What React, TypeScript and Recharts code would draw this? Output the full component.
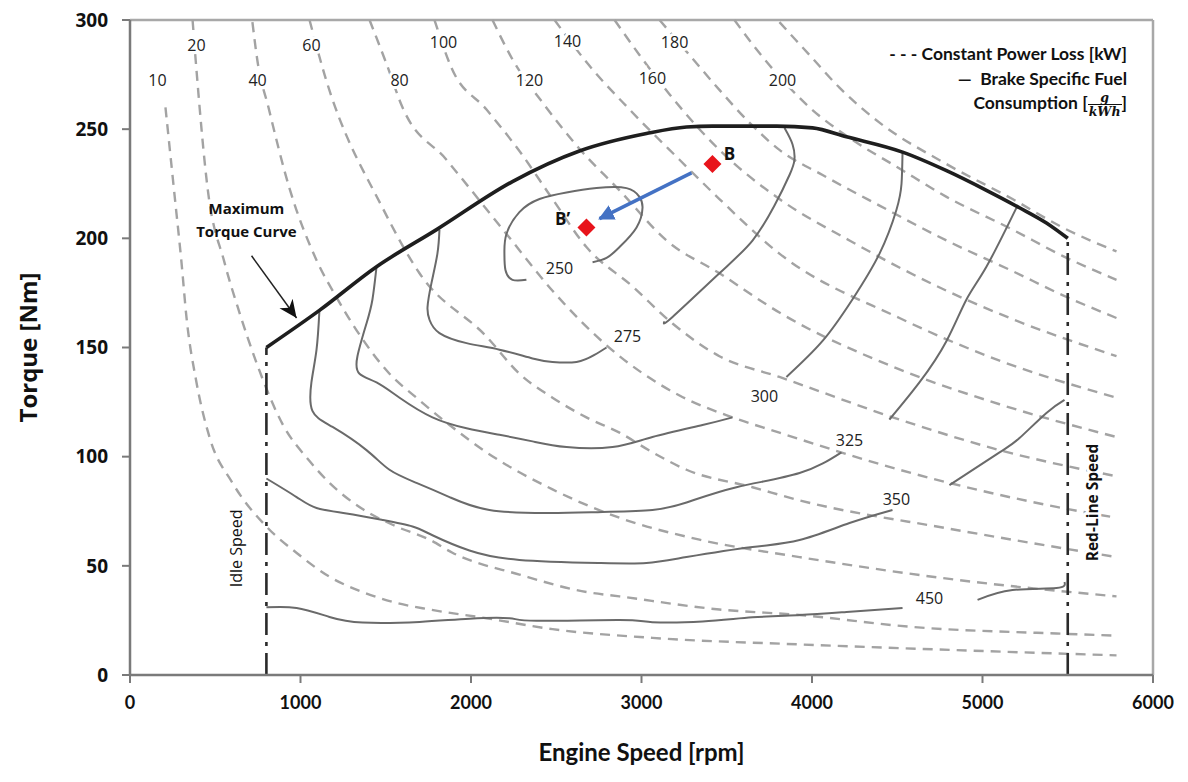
import { ComposedChart, Line, Scatter, XAxis, YAxis, ReferenceLine, ReferenceDot } from "recharts"

type Pair = [number, number]

const speedTicks = [0, 1000, 2000, 3000, 4000, 5000, 6000]
const torqueTicks = [0, 50, 100, 150, 200, 250, 300]

// full load curve and speed limits (rpm, Nm)
const maxTorque: Pair[] = [
  [800, 150], [1111, 167], [1446, 187], [1798, 204], [2243, 226], [2636, 240], [3029, 248],
  [3264, 251], [3416, 251.4], [3792, 251.4], [4003, 250.6], [4202, 246.5], [4531, 239.5],
  [4789, 231], [5023, 222], [5217, 214], [5375, 207], [5500, 200],
]
const idleSpeed: Pair[] = [[800, 0], [800, 150]]
const redLineSpeed: Pair[] = [[5500, 0], [5500, 200]]

// constant power loss curves [kW]
const loss10: Pair[] = [
  [208, 260], [261, 220], [302, 189], [331, 164], [390, 134], [466, 109], [601, 88], [800, 68],
  [976, 56], [1170, 45], [1364, 38], [1563, 33], [1757, 30], [2091, 26], [2478, 21], [3064, 17],
  [3927, 14], [4806, 11.5], [5786, 9],
]
const loss20: Pair[] = [
  [367, 300], [390, 277], [455, 223], [554, 189], [642, 166], [742, 143], [894, 115], [1053, 98],
  [1170, 88], [1364, 76], [1563, 68], [1757, 62], [1891, 56], [2284, 46], [2677, 38], [2871, 36],
  [3457, 30], [3927, 27.5], [4589, 22], [5434, 19], [5786, 18],
]
const loss40: Pair[] = [
  [718, 299], [748, 281], [812, 260], [935, 223], [1094, 190], [1211, 173], [1328, 158],
  [1522, 138], [1680, 127], [1874, 114.5], [2091, 102], [2478, 85], [2871, 72], [3340, 62],
  [3927, 54], [4806, 44], [5786, 36],
]
const loss60: Pair[] = [
  [1053, 300], [1141, 275], [1481, 214], [1698, 184], [2091, 155], [2284, 138], [2478, 127],
  [2677, 118], [2871, 111], [3064, 102], [3264, 94], [3651, 86], [3927, 80], [4806, 67], [5786, 54],
]
const loss80: Pair[] = [
  [1405, 300], [1504, 280], [1598, 260], [1856, 236], [2208, 202], [2478, 176], [2795, 151],
  [3223, 128], [3534, 118], [3809, 111], [4513, 94], [5434, 77], [5786, 72],
]
const loss100: Pair[] = [
  [1786, 300], [1886, 278], [2091, 259], [2284, 240], [2478, 218], [2677, 196], [2947, 178],
  [3182, 161], [3457, 146], [3809, 136.5], [4513, 117], [5100, 103], [5786, 91],
]
const loss120: Pair[] = [
  [2126, 300], [2243, 282], [2431, 261], [2636, 241], [2871, 222], [3147, 199], [3457, 184],
  [3809, 166], [4513, 140], [5100, 124], [5786, 109],
]
const loss140: Pair[] = [
  [2490, 300], [2695, 279], [2930, 259], [3223, 236], [3457, 218], [3809, 193], [4513, 163.5],
  [5100, 144], [5786, 127],
]
const loss160: Pair[] = [
  [2842, 300], [2988, 284], [3164, 266], [3457, 240.5], [3809, 218], [4220, 199], [4789, 176],
  [5176, 163], [5786, 146],
]
const loss180: Pair[] = [
  [3106, 300], [3281, 284], [3457, 268], [3633, 253], [3809, 240.5], [4062, 229], [4396, 215],
  [4789, 199], [5176, 185], [5469, 174], [5786, 163.5],
]
const loss200: Pair[] = [
  [3545, 300], [3680, 286], [3827, 272.5], [3985, 260], [4220, 246], [4513, 232], [4789, 219],
  [5176, 204], [5469, 192], [5786, 181],
]
const loss220: Pair[] = [
  [3809, 299], [3985, 284], [4161, 269], [4396, 253], [4789, 234], [5176, 218], [5469, 205], [5786, 194],
]
const lossCurves = [loss10, loss20, loss40, loss60, loss80, loss100, loss120, loss140, loss160, loss180, loss200, loss220]

const lossLabels: [string, number, number][] = [
  ["10", 161, 272.5], ["20", 390, 288.5], ["40", 748, 272.5], ["60", 1064, 288.5],
  ["80", 1581, 272.5], ["100", 1839, 290], ["120", 2343, 272.5], ["140", 2566, 290.4],
  ["160", 3064, 273.4], ["180", 3194, 290], ["200", 3827, 272.5],
]

// brake specific fuel consumption contours [g/kWh]
const bsfc250: Pair[] = [
  [2325, 181], [2243, 181], [2202, 185.5], [2196, 193], [2208, 202], [2284, 212], [2402, 218],
  [2560, 221], [2736, 223], [2912, 223], [2988, 219], [3006, 214], [2971, 205], [2871, 196],
  [2795, 191], [2713, 189],
]
const bsfc275a: Pair[] = [
  [1815, 204], [1803, 193], [1768, 179.5], [1745, 168.5], [1757, 162.6], [1815, 156.6],
  [1974, 152], [2167, 149], [2361, 145], [2478, 143.4], [2619, 143.4], [2724, 146.6], [2795, 150],
]
const bsfc275b: Pair[] = [
  [3135, 162], [3182, 164], [3457, 184], [3651, 199], [3780, 215], [3868, 229], [3897, 236],
  [3886, 243], [3839, 250.5],
]
const bsfc300a: Pair[] = [
  [1446, 187], [1422, 172], [1387, 161], [1334, 146], [1346, 138], [1446, 134], [1581, 127],
  [1774, 118], [1974, 113], [2167, 110], [2361, 107], [2560, 104.4], [2830, 104.4], [3064, 109],
  [3358, 114.5], [3534, 118],
]
const bsfc300b: Pair[] = [
  [3850, 136.5], [4062, 153], [4237, 172], [4396, 193], [4495, 213], [4525, 225], [4531, 239.5],
]
const bsfc325a: Pair[] = [
  [1111, 167], [1094, 149], [1064, 134], [1070, 121], [1188, 113.6], [1387, 103], [1522, 94],
  [1680, 88], [1874, 81.5], [2108, 75.6], [2460, 74.2], [2771, 74.7], [3064, 75.6], [3264, 79],
  [3557, 86], [3927, 92.5], [4173, 102],
]
const bsfc325b: Pair[] = [[4454, 117], [4630, 134], [4789, 153], [4906, 172], [5023, 187], [5199, 214]]
const bsfc350a: Pair[] = [
  [800, 90], [977, 81.5], [1094, 76.5], [1270, 74], [1481, 71], [1657, 68], [1774, 64], [1991, 57],
  [2284, 52.7], [2754, 51.3], [3029, 51.3], [3264, 54], [3651, 58.6], [3927, 61.8], [4220, 69.6],
  [4472, 75.6],
]
const bsfc350b: Pair[] = [[4806, 87], [5100, 102], [5217, 108.5], [5375, 120], [5481, 126]]
const bsfc450a: Pair[] = [
  [800, 31], [977, 30.7], [1170, 26.6], [1364, 24], [1698, 24.3], [1991, 25.8], [2226, 26],
  [2384, 24.8], [2871, 25.2], [3064, 24.2], [3358, 24.5], [3651, 26.4], [3927, 27.5], [4202, 28.9],
  [4531, 30.7],
]
const bsfc450b: Pair[] = [[4971, 34.4], [5176, 38.9], [5434, 39.8], [5481, 42.6]]
const bsfcCurves = [bsfc250, bsfc275a, bsfc275b, bsfc300a, bsfc300b, bsfc325a, bsfc325b, bsfc350a, bsfc350b, bsfc450a, bsfc450b]

const bsfcLabels: [string, number, number][] = [
  ["250", 2519, 186.4], ["275", 2918, 155.3], ["300", 3721, 127.8],
  ["325", 4220, 107.6], ["350", 4495, 80.6], ["450", 4689, 35.3],
]

// operating points B -> B'
const operatingPoints: Pair[] = [[3416, 234], [2677, 205]]
const pointLabels: [string, number, number][] = [["B", 3516, 239], ["B\u2019", 2537, 209.3]]
const shiftArrow: Pair[] = [[3293, 230], [2754, 209]]
const torqueArrow: Pair[] = [[713, 192], [977, 163.5]]

const toXY = (s: Pair[]) => s.map(([x, y]) => ({ x, y }))

const labelFont = "'Open Sans', sans-serif"

function textShape(label: string, attrs: Record<string, any>, rotate = 0) {
  return (p: any) => (
    <text
      x={p.cx}
      y={p.cy}
      textAnchor="middle"
      dominantBaseline="central"
      stroke="#fff"
      strokeWidth={6}
      paintOrder="stroke"
      transform={rotate ? `rotate(${rotate}, ${p.cx}, ${p.cy})` : undefined}
      {...attrs}
    >
      {label}
    </text>
  )
}

const Diamond = (p: any) => (
  <polygon
    points={`${p.cx},${p.cy - 9} ${p.cx + 9},${p.cy} ${p.cx},${p.cy + 9} ${p.cx - 9},${p.cy}`}
    fill="#e8141b"
  />
)

const MaxTorqueText = (p: any) => (
  <text x={p.cx} y={p.cy} textAnchor="middle" fontFamily={labelFont} fontWeight={700} fontSize={15} fill="#111">
    <tspan x={p.cx} dy={-5}>Maximum</tspan>
    <tspan x={p.cx} dy={23}>Torque Curve</tspan>
  </text>
)

export default function App() {
  return (
    <div style={{ position: "absolute", left: 0, top: 0, width: 1188, height: 782, background: "#fff" }}>
      <svg width={0} height={0} style={{ position: "absolute" }}>
        <defs>
          <marker id="arrowBlue" viewBox="0 0 10 10" refX="9" refY="5" markerWidth="4.5" markerHeight="4.5" orient="auto">
            <path d="M0,0 L10,5 L0,10 z" fill="#4472c4" />
          </marker>
          <marker id="arrowBlack" viewBox="0 0 10 10" refX="10" refY="5" markerWidth="12" markerHeight="12" orient="auto">
            <path d="M0,0.5 L10,5 L0,9.5 L3,5 z" fill="#111" />
          </marker>
        </defs>
      </svg>
      <ComposedChart width={1188} height={782} margin={{ top: 20, right: 35, bottom: 0, left: 0 }}>
        <XAxis
          type="number"
          dataKey="x"
          domain={[0, 6000]}
          ticks={speedTicks}
          interval={0}
          height={107}
          tickSize={8}
          tickMargin={13}
          axisLine={{ stroke: "#7a7a7a", strokeWidth: 2.5 }}
          tickLine={{ stroke: "#7a7a7a", strokeWidth: 2 }}
          tick={{ fill: "#111", fontSize: 18, fontWeight: 700, fontFamily: "Lato" }}
          label={{
            value: "Engine Speed [rpm]",
            position: "insideBottom",
            offset: 21,
            fill: "#111",
            fontSize: 24,
            fontWeight: 700,
            fontFamily: "Lato",
          }}
        />
        <YAxis
          type="number"
          dataKey="y"
          domain={[0, 300]}
          ticks={torqueTicks}
          interval={0}
          width={130}
          tickSize={8}
          tickMargin={14}
          axisLine={{ stroke: "#7a7a7a", strokeWidth: 2.5 }}
          tickLine={{ stroke: "#7a7a7a", strokeWidth: 2 }}
          tick={{ fill: "#111", fontSize: 19, fontWeight: 700, fontFamily: labelFont }}
          label={{
            value: "Torque [Nm]",
            angle: -90,
            position: "insideLeft",
            offset: 28,
            style: { textAnchor: "middle" },
            fill: "#111",
            fontSize: 24,
            fontWeight: 700,
            fontFamily: labelFont,
          }}
        />
        <ReferenceLine y={300} stroke="#a8a8a8" strokeWidth={2.5} />
        <ReferenceLine x={6000} stroke="#a8a8a8" strokeWidth={2.5} />

        {lossCurves.map((c, i) => (
          <Line
            key={"loss" + i}
            data={toXY(c)}
            dataKey="y"
            type="monotone"
            stroke="#a3a3a3"
            strokeWidth={2.4}
            strokeDasharray="10 7"
            dot={false}
            activeDot={false}
            isAnimationActive={false}
          />
        ))}
        {bsfcCurves.map((c, i) => (
          <Line
            key={"bsfc" + i}
            data={toXY(c)}
            dataKey="y"
            type="natural"
            stroke="#6a6a6a"
            strokeWidth={2}
            dot={false}
            activeDot={false}
            isAnimationActive={false}
          />
        ))}
        <Line data={toXY(idleSpeed)} dataKey="y" type="linear" stroke="#2a2a2a" strokeWidth={2.6} strokeDasharray="22 7 4 7" dot={false} activeDot={false} isAnimationActive={false} />
        <Line data={toXY(redLineSpeed)} dataKey="y" type="linear" stroke="#2a2a2a" strokeWidth={2.6} strokeDasharray="22 7 4 7" dot={false} activeDot={false} isAnimationActive={false} />
        <Line data={toXY(maxTorque)} dataKey="y" type="monotone" stroke="#1e1e1e" strokeWidth={3.6} dot={false} activeDot={false} isAnimationActive={false} />
        <Line data={toXY(torqueArrow)} dataKey="y" type="linear" stroke="#222" strokeWidth={1.5} markerEnd="url(#arrowBlack)" dot={false} activeDot={false} isAnimationActive={false} />
        <Line data={toXY(shiftArrow)} dataKey="y" type="linear" stroke="#4472c4" strokeWidth={3.5} markerEnd="url(#arrowBlue)" dot={false} activeDot={false} isAnimationActive={false} />
        <Scatter data={toXY(operatingPoints)} dataKey="y" shape={Diamond} isAnimationActive={false} />

        {lossLabels.map(([t, x, y]) => (
          <ReferenceDot key={"ll" + t} x={x} y={y} r={1} shape={textShape(t, { fontFamily: labelFont, fontSize: 16, fill: "#222" })} />
        ))}
        {bsfcLabels.map(([t, x, y]) => (
          <ReferenceDot key={"bl" + t} x={x} y={y} r={1} shape={textShape(t, { fontFamily: labelFont, fontSize: 16, fill: "#222" })} />
        ))}
        {pointLabels.map(([t, x, y]) => (
          <ReferenceDot key={"pl" + t} x={x} y={y} r={1} shape={textShape(t, { fontFamily: labelFont, fontSize: 17, fontWeight: 700, fill: "#111", strokeWidth: 0 })} />
        ))}
        <ReferenceDot x={620} y={58} r={1} shape={textShape("Idle Speed", { fontFamily: labelFont, fontSize: 16, fill: "#111", strokeWidth: 0 }, -90)} />
        <ReferenceDot x={5645} y={79} r={1} shape={textShape("Red-Line Speed", { fontFamily: labelFont, fontSize: 15.5, fontWeight: 700, fill: "#111" }, -90)} />
        <ReferenceDot x={683} y={209} r={1} shape={MaxTorqueText} />
      </ComposedChart>
      <div
        style={{
          position: "absolute",
          right: 61,
          top: 42,
          textAlign: "right",
          fontFamily: "Lato",
          fontWeight: 700,
          fontSize: 17.5,
          lineHeight: "24.5px",
          color: "#111",
          whiteSpace: "nowrap",
        }}
      >
        <div>- - - Constant Power Loss [kW]</div>
        <div>—&nbsp; Brake Specific Fuel</div>
        <div>
          Consumption&nbsp;[
          <span style={{ display: "inline-flex", flexDirection: "column", alignItems: "center", verticalAlign: "middle", fontFamily: "'DejaVu Serif', serif", fontStyle: "italic", fontWeight: 700, fontSize: 12.5, lineHeight: "13px" }}>
            <span>g</span>
            <span style={{ borderTop: "1.5px solid #111", padding: "0 1px" }}>kWh</span>
          </span>
          ]
        </div>
      </div>
    </div>
  )
}
